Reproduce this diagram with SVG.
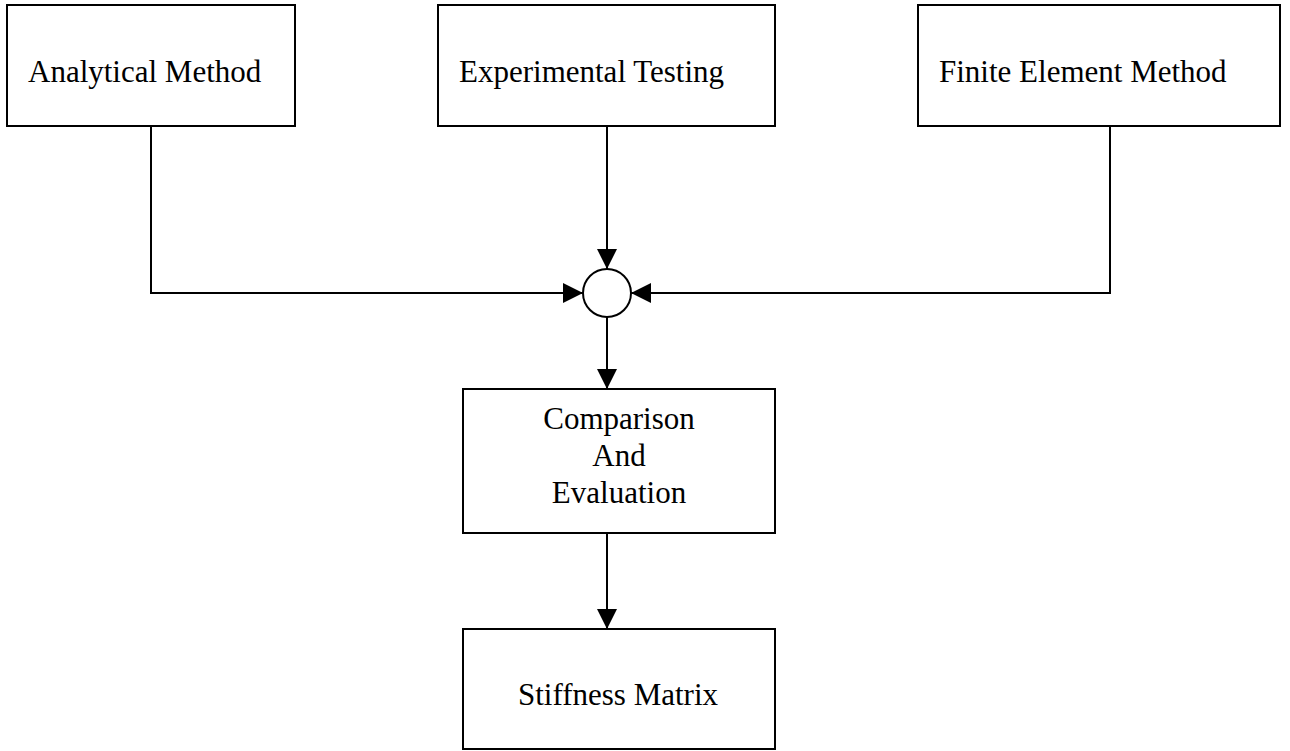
<svg xmlns="http://www.w3.org/2000/svg" width="1290" height="751" viewBox="0 0 1290 751">
<style>
.box{fill:#fff;stroke:#000;stroke-width:2}
.t{font-family:"Liberation Serif","Times New Roman",serif;font-size:31px;fill:#000}
.c{text-anchor:middle}
.ln{fill:none;stroke:#000;stroke-width:2}
</style>
<defs>
<marker id="ah" viewBox="0 0 20 20" markerWidth="20" markerHeight="20" refX="20" refY="10" orient="auto" markerUnits="userSpaceOnUse">
<path d="M0,0 L20,10 L0,20 Z" fill="#000"/>
</marker>
</defs>
<rect width="1290" height="751" fill="#fff"/>
<g id="connectors">
<polyline class="ln" points="151,126 151,293 583,293" marker-end="url(#ah)"/>
<line class="ln" x1="607" y1="126" x2="607" y2="269" marker-end="url(#ah)"/>
<polyline class="ln" points="1110,126 1110,293 631,293" marker-end="url(#ah)"/>
<line class="ln" x1="607" y1="317" x2="607" y2="389" marker-end="url(#ah)"/>
<line class="ln" x1="607" y1="533" x2="607" y2="629" marker-end="url(#ah)"/>
</g>
<g id="analytical">
<rect class="box" x="7" y="5" width="288" height="121"/>
<text class="t" x="28" y="82">Analytical Method</text>
</g>
<g id="experimental">
<rect class="box" x="438" y="5" width="337" height="121"/>
<text class="t" x="459" y="82">Experimental Testing</text>
</g>
<g id="fem">
<rect class="box" x="918" y="5" width="362" height="121"/>
<text class="t" x="939" y="82">Finite Element Method</text>
</g>
<g id="junction">
<circle cx="607" cy="293" r="24" fill="#fff" stroke="#000" stroke-width="2"/>
</g>
<g id="comparison">
<rect class="box" x="463" y="389" width="312" height="144"/>
<text class="t c" x="619" y="429">Comparison</text>
<text class="t c" x="619" y="466">And</text>
<text class="t c" x="619" y="503">Evaluation</text>
</g>
<g id="stiffness">
<rect class="box" x="463" y="629" width="312" height="120"/>
<text class="t c" x="618" y="705">Stiffness Matrix</text>
</g>
</svg>
